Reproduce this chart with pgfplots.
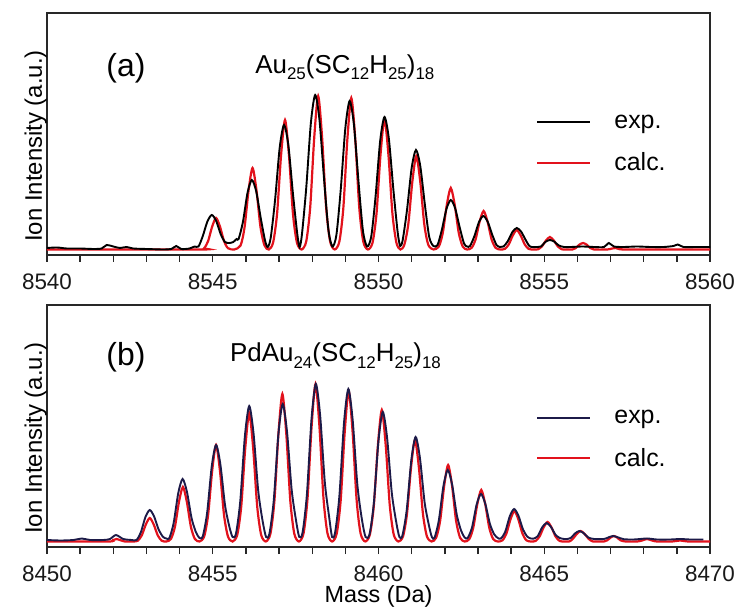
\documentclass[border=0pt]{standalone}
\usepackage{pgfplots}
\pgfplotsset{compat=1.18}
\usepackage{pgfplotstable}
\usepackage{fontspec}
\setmainfont{Liberation Sans}

\definecolor{calcred}{RGB}{226,18,28}
\definecolor{expnavy}{RGB}{28,26,72}
\definecolor{framegray}{RGB}{40,40,40}

\newcommand{\sub}[1]{\raisebox{-6.5bp}{\fontsize{17}{17}\selectfont #1}}

% Au25(SC12H25)18 : measured spectrum
\pgfplotstableread{
m y
8540.0 2
8540.3 2.5
8540.6 1.5
8541.0 1.5
8541.4 1
8541.65 1.5
8541.8 5
8542.0 3.5
8542.2 2
8542.4 3
8542.6 1.5
8543.0 1
8543.5 0.5
8543.75 1
8543.9 4
8544.05 1
8544.3 1.5
8544.45 3.5
8544.57 3.5
8544.70 14
8544.84 28.7
8544.97 35
8545.10 29.4
8545.24 15.8
8545.37 8
8545.5 7
8545.62 8
8545.72 11
8545.78 11
8545.91 28
8546.05 57.4
8546.18 70
8546.31 58.8
8546.45 31.5
8546.58 9.1
8546.66 3
8546.75 12.5
8546.88 50
8547.02 102.5
8547.15 125
8547.28 105
8547.42 56
8547.55 16
8547.62 3
8547.69 15.5
8547.82 62
8547.96 127
8548.09 155
8548.22 130
8548.36 70
8548.49 20
8548.61 3.5
8548.73 15
8548.86 60
8549.00 122
8549.13 149
8549.26 125
8549.40 67
8549.53 19.4
8549.655 3.5
8549.78 13.3
8549.91 53
8550.05 109
8550.18 133
8550.31 112
8550.45 60
8550.58 17.3
8550.655 4
8550.73 10
8550.86 40
8551.00 82
8551.13 100
8551.26 84
8551.40 45
8551.53 13
8551.655 4
8551.78 5
8551.91 20
8552.05 41
8552.18 50
8552.31 42
8552.45 22.5
8552.58 6.5
8552.67 3.5
8552.76 4
8552.89 13.6
8553.03 27.9
8553.16 34
8553.29 28.6
8553.43 15.3
8553.56 5
8553.665 3
8553.77 3.5
8553.90 8.8
8554.04 18
8554.17 22
8554.30 18.5
8554.44 10
8554.57 3.5
8554.8 3
8554.9 3.5
8555.04 8.2
8555.17 10
8555.30 8.4
8555.44 4.5
8555.6 3
8555.8 3
8556.15 3.5
8556.5 3
8556.8 3
8556.95 7
8557.1 3.5
8557.4 3
8557.8 3.5
8558.2 3
8558.6 3
8558.9 4
8559.03 5.5
8559.2 3
8559.6 3
8560.0 3
}\expA

% Au25(SC12H25)18 : calculated isotope pattern
\pgfplotstableread{
m y
8540.0 0.5
8544.6 0.5
8544.74 1.8
8544.86 8.9
8544.98 23.2
8545.10 32
8545.22 23.2
8545.34 8.9
8545.46 1.8
8545.65 0.5
8545.84 4.6
8545.96 22.8
8546.08 59.5
8546.20 82
8546.32 59.5
8546.44 22.8
8546.56 4.6
8546.69 0.5
8546.82 7.3
8546.94 36.1
8547.06 94.4
8547.18 130
8547.30 94.4
8547.42 36.1
8547.54 7.3
8547.68 0.5
8547.82 8.6
8547.94 42.8
8548.06 111.8
8548.18 154
8548.30 111.8
8548.42 42.8
8548.54 8.6
8548.68 0.5
8548.82 8.5
8548.94 42.3
8549.06 110.4
8549.18 152
8549.30 110.4
8549.42 42.3
8549.54 8.5
8549.68 0.5
8549.82 7.3
8549.94 36.4
8550.06 95.1
8550.18 131
8550.30 95.1
8550.42 36.4
8550.54 7.3
8550.66 0.5
8550.78 5.3
8550.90 26.1
8551.02 68.2
8551.14 94
8551.26 68.2
8551.38 26.1
8551.50 5.3
8551.66 0.5
8551.82 3.5
8551.94 17.2
8552.06 45
8552.18 62
8552.30 45
8552.42 17.2
8552.54 3.5
8552.67 0.5
8552.81 2.2
8552.93 10.8
8553.05 28.3
8553.17 39
8553.29 28.3
8553.41 10.8
8553.53 2.2
8553.67 0.5
8553.81 1.1
8553.93 5.6
8554.05 14.5
8554.17 20
8554.29 14.5
8554.41 5.6
8554.53 1.1
8554.67 0.5
8554.81 0.7
8554.93 3.6
8555.05 9.4
8555.17 13
8555.29 9.4
8555.41 3.6
8555.53 0.7
8555.67 0.5
8555.85 0.5
8555.95 1.9
8556.05 5.1
8556.17 7
8556.29 5.1
8556.39 1.9
8556.5 0.5
8556.9 0.5
8557.05 1.5
8557.17 2
8557.29 1.5
8557.45 0.5
8560.0 0.5
}\calcA

% PdAu24(SC12H25)18 : measured spectrum
\pgfplotstableread{
m y
8450.0 2
8450.4 1.5
8450.8 2
8451.05 3.5
8451.3 2
8451.7 2
8451.9 3
8452.08 7
8452.3 3
8452.55 2
8452.70 2
8452.83 9.6
8452.97 25
8453.10 32
8453.23 25.6
8453.37 12.2
8453.50 5.1
8453.60 3.5
8453.69 3.8
8453.82 18.9
8453.96 49
8454.09 63
8454.22 50.4
8454.36 24
8454.49 10
8454.60 4
8454.70 5.8
8454.83 29
8454.97 75.7
8455.10 97
8455.23 77.6
8455.37 36.9
8455.50 15.5
8455.60 5
8455.70 8.2
8455.83 40.8
8455.97 106
8456.10 136
8456.23 108.8
8456.37 51.7
8456.50 21.8
8456.61 5
8456.71 8.3
8456.84 41.4
8456.98 107.6
8457.11 138
8457.24 110.4
8457.38 52.4
8457.51 22
8457.61 5
8457.71 9.5
8457.84 47.4
8457.98 123.2
8458.11 158
8458.24 126.4
8458.38 60
8458.51 25.3
8458.60 5
8458.69 9.2
8458.82 45.9
8458.96 119.3
8459.09 153
8459.22 122.4
8459.36 58.1
8459.49 24.5
8459.61 5
8459.73 7.8
8459.86 39
8460.00 101.4
8460.13 130
8460.26 104
8460.40 49.4
8460.53 20.8
8460.63 5
8460.72 6.3
8460.85 31.5
8460.99 81.9
8461.12 105
8461.25 84
8461.39 39.9
8461.52 16.8
8461.61 5
8461.69 4.3
8461.82 21.6
8461.96 56.2
8462.09 72
8462.22 57.6
8462.36 27.4
8462.49 11.5
8462.60 4.5
8462.69 4
8462.82 14.4
8462.96 37.4
8463.09 48
8463.22 38.4
8463.36 18.2
8463.49 7.7
8463.60 4
8463.69 3.5
8463.82 9.9
8463.96 25.7
8464.09 33
8464.22 26.4
8464.36 12.5
8464.49 5.3
8464.60 3.5
8464.67 3.3
8464.80 5.7
8464.94 14.8
8465.07 19
8465.20 15.2
8465.34 7.2
8465.47 4
8465.60 3
8465.70 3
8465.80 4
8465.93 8.6
8466.06 11
8466.19 8.8
8466.33 4.5
8466.50 3
8466.80 3
8466.95 4.8
8467.08 6
8467.21 4.8
8467.40 2.8
8467.70 2.5
8468.10 3.5
8468.40 2.5
8468.80 2.5
8469.10 3
8469.40 2.5
8469.80 2.5
}\expB

% PdAu24(SC12H25)18 : calculated isotope pattern
\pgfplotstableread{
m y
8450.0 0.5
8451.85 0.5
8452.0 2
8452.1 3
8452.2 2
8452.35 0.5
8452.6 0.5
8452.74 1.3
8452.86 6.7
8452.98 17.4
8453.10 24
8453.22 17.4
8453.34 6.7
8453.46 1.3
8453.60 0.5
8453.74 3.1
8453.86 15.3
8453.98 39.9
8454.10 55
8454.22 39.9
8454.34 15.3
8454.46 3.1
8454.60 0.5
8454.74 5.4
8454.86 27
8454.98 70.4
8455.10 97
8455.22 70.4
8455.34 27
8455.46 5.4
8455.60 0.5
8455.74 7.2
8455.86 35.9
8455.98 93.7
8456.10 129
8456.22 93.7
8456.34 35.9
8456.46 7.2
8456.60 0.5
8456.74 8.3
8456.86 41.1
8456.98 107.4
8457.10 148
8457.22 107.4
8457.34 41.1
8457.46 8.3
8457.60 0.5
8457.74 8.8
8457.86 43.9
8457.98 114.7
8458.10 158
8458.22 114.7
8458.34 43.9
8458.46 8.8
8458.60 0.5
8458.74 8.5
8458.86 42
8458.98 109.6
8459.10 151
8459.22 109.6
8459.34 42
8459.46 8.5
8459.60 0.5
8459.74 7.4
8459.86 36.7
8459.98 95.8
8460.10 132
8460.22 95.8
8460.34 36.7
8460.46 7.4
8460.60 0.5
8460.74 5.7
8460.86 28.4
8460.98 74.1
8461.10 102
8461.22 74.1
8461.34 28.4
8461.46 5.7
8461.60 0.5
8461.74 4.3
8461.86 21.4
8461.98 55.9
8462.10 77
8462.22 55.9
8462.34 21.4
8462.46 4.3
8462.60 0.5
8462.74 2.9
8462.86 14.5
8462.98 37.8
8463.10 52
8463.22 37.8
8463.34 14.5
8463.46 2.9
8463.60 0.5
8463.74 1.7
8463.86 8.6
8463.98 22.5
8464.10 31
8464.22 22.5
8464.34 8.6
8464.46 1.7
8464.60 0.5
8464.74 1.1
8464.86 5.6
8464.98 14.5
8465.10 20
8465.22 14.5
8465.34 5.6
8465.46 1.1
8465.60 0.5
8465.76 0.6
8465.86 3.1
8465.98 8
8466.10 11
8466.22 8
8466.34 3.1
8466.46 0.6
8466.60 0.5
8466.80 0.5
8466.90 1.7
8467.00 4.4
8467.10 6
8467.20 4.4
8467.30 1.7
8467.45 0.5
8467.80 0.5
8467.95 1.5
8468.10 3
8468.25 1.5
8468.40 0.5
8468.85 0.5
8469.10 1.5
8469.35 0.5
8470.00 0.5
}\calcB

\pgfplotsset{
  msaxis/.style={
    scale only axis,
    width=663bp, height=242bp,
    anchor=south west,
    ymin=-5, ymax=237,
    ytick=\empty,
    axis line style={line width=1.6bp, framegray},
    tick align=outside,
    xtick pos=lower,
    minor x tick num=4,
    major tick length=7bp, minor tick length=7bp,
    every tick/.style={line width=1.4bp, framegray},
    /pgf/number format/assume math mode=true,
    /pgf/number format/1000 sep={},
    xticklabel style={font=\fontsize{22.5}{27}\selectfont, text=black!90, yshift=-8bp},
    ylabel={Ion Intensity (a.u.)},
    ylabel style={font=\fontsize{24}{28}\selectfont, at={(axis description cs:0,0.5)},
      anchor=south, rotate=0, xshift=-12bp, inner sep=0pt},
    legend cell align=left,
    legend style={draw=none, fill=none, inner sep=0pt,
      font=\fontsize{25}{30}\selectfont, row sep=23bp, column sep=23bp,
      nodes={inner sep=0pt}},
    legend image code/.code={\draw[#1] (0bp,0bp) -- (53bp,0bp);},
    tension=0.45,
  },
}

\begin{document}
\begin{tikzpicture}
\path[use as bounding box] (0,0) rectangle (739bp,608bp);

% panel (a)
\begin{axis}[msaxis,
  at={(47bp,353bp)},
  xmin=8540, xmax=8560,
  xtick={8540,8545,...,8560},
  legend style={at={(rel axis cs:0.7376,0.46)}, anchor=west},
]
\addlegendimage{line width=2bp, black}
\addlegendentry{exp.}
\addlegendimage{line width=2.2bp, calcred}
\addlegendentry{calc.}
\addplot[smooth, line width=2.2bp, calcred, forget plot] table[x=m, y=y] {\calcA};
\addplot[smooth, line width=1.9bp, black, forget plot] table[x=m, y=y] {\expA};
\node[font=\fontsize{32}{36}\selectfont] at (rel axis cs:0.119,0.773) {(a)};
\node[font=\fontsize{26}{30}\selectfont, anchor=base west] at (rel axis cs:0.309,0.751)
  {Au\sub{25}(SC\sub{12}H\sub{25})\sub{18}};
\end{axis}

% panel (b)
\begin{axis}[msaxis,
  at={(47bp,61bp)},
  xmin=8450, xmax=8470,
  xtick={8450,8455,...,8470},
  xlabel={Mass (Da)},
  xlabel style={font=\fontsize{23.5}{28}\selectfont, inner sep=0pt,
    at={(axis description cs:0.5,0)}, anchor=north, yshift=-38.5bp},
  legend style={at={(rel axis cs:0.7376,0.445)}, anchor=west},
]
\addlegendimage{line width=2bp, expnavy}
\addlegendentry{exp.}
\addlegendimage{line width=2.2bp, calcred}
\addlegendentry{calc.}
\addplot[smooth, line width=2.2bp, calcred, forget plot] table[x=m, y=y] {\calcB};
\addplot[smooth, line width=1.9bp, expnavy, forget plot] table[x=m, y=y] {\expB};
\node[font=\fontsize{32}{36}\selectfont] at (rel axis cs:0.119,0.785) {(b)};
\node[font=\fontsize{26}{30}\selectfont, anchor=base west] at (rel axis cs:0.271,0.766)
  {PdAu\sub{24}(SC\sub{12}H\sub{25})\sub{18}};
\end{axis}
\end{tikzpicture}
\end{document}
